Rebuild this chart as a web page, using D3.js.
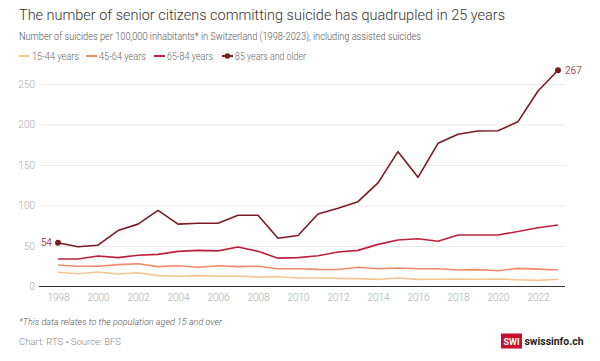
<!DOCTYPE html>
<html>
<head>
<meta charset="utf-8">
<script src="https://cdn.jsdelivr.net/npm/d3@7"></script>
<style>
  body { margin: 0; background: #fff; }
  svg { font-family: Roboto, "Noto Sans", sans-serif; }
</style>
</head>
<body>
<svg id="chart" width="600" height="361"></svg>
<script>
const years = d3.range(1998, 2024);
const age15to44 = [17.5, 15.8, 17.9, 15.4, 17, 13.4, 12.6, 13.4, 12.6, 13, 11.7, 12, 10.5, 10.5, 10, 9.7, 8.8, 10.5, 8.8, 9, 9.3, 9, 9.3, 8.4, 7.6, 9];
const age45to64 = [26.5, 25, 25, 27, 28, 24.5, 25.7, 23.7, 25.7, 24.5, 25, 22, 22, 21.2, 21, 23.7, 22, 22.8, 22, 22, 20.4, 20.8, 19.5, 22.4, 21.5, 20.4];
const age65to84 = [34, 34, 37.6, 35.6, 38.5, 39.7, 43.4, 44.6, 44, 48.8, 43.4, 35, 35.6, 38, 42.6, 44.6, 52, 57.4, 59, 55.8, 63.6, 63.6, 63.6, 68, 72.6, 76];
const age85plus = [54, 49, 51, 69, 77, 94, 77, 78, 78, 88, 88, 59.5, 63, 89.5, 96.5, 104.7, 128, 166.5, 134.8, 176.8, 188, 192, 192.3, 203.5, 241.4, 267];
const yTicks = [0, 50, 100, 150, 200, 250];
const xTicks = d3.range(1998, 2024, 2);

const series = [
  { name: '15-44 years', values: age15to44, color: '#f6c48f' },
  { name: '45-64 years', values: age45to64, color: '#f38a66' },
  { name: '65-84 years', values: age65to84, color: '#c0203b' },
  { name: '85 years and older', values: age85plus, color: '#7c1a22', dots: true }
];

const svg = d3.select('#chart');

const x = d3.scaleLinear().domain([1998, 2023]).range([58, 558]);
const y = d3.scaleLinear().domain([0, 250]).range([286.5, 84]);

// titles
svg.append('text').attr('x', 19).attr('y', 19.5)
  .attr('font-size', 15.5).attr('fill', '#333').attr('font-weight', 300)
  .attr('textLength', 486).attr('lengthAdjust', 'spacingAndGlyphs')
  .text('The number of senior citizens committing suicide has quadrupled in 25 years');
svg.append('text').attr('x', 19).attr('y', 39.5)
  .attr('font-size', 10).attr('fill', '#555').attr('font-weight', 300)
  .attr('textLength', 402).attr('lengthAdjust', 'spacingAndGlyphs')
  .text('Number of suicides per 100,000 inhabitants* in Switzerland (1998-2023), including assisted suicides');

// legend
const legendX = [19, 86, 154, 222];
const legendW = [47, 47, 46, 71];
const legend = svg.append('g');
series.forEach((s, i) => {
  const g = legend.append('g').attr('transform', 'translate(' + legendX[i] + ',56)');
  g.append('line').attr('x1', 0).attr('x2', 11).attr('y1', 0).attr('y2', 0)
    .attr('stroke', s.color).attr('stroke-width', 2);
  if (s.dots) g.append('circle').attr('cx', 5.5).attr('cy', 0).attr('r', 2.8).attr('fill', s.color);
  g.append('text').attr('x', 13).attr('y', 3.5).attr('font-size', 10)
    .attr('textLength', legendW[i]).attr('lengthAdjust', 'spacingAndGlyphs')
    .attr('fill', '#666').attr('font-weight', 300).text(s.name);
});

// grid
const grid = d3.axisLeft(y).tickValues(yTicks).tickSize(-(565 - 39)).tickFormat(d => d);
const gGrid = svg.append('g').attr('transform', 'translate(39,0)').call(grid);
gGrid.select('.domain').remove();
gGrid.selectAll('.tick line').attr('stroke', '#ebebeb');
gGrid.selectAll('.tick text').attr('x', -4).attr('fill', '#aaa')
  .attr('font-size', 10).attr('font-family', 'Roboto, sans-serif').attr('font-weight', 300);
gGrid.selectAll('.tick').filter(d => d === 0).select('line').remove();

// x axis
const xAxis = d3.axisBottom(x).tickValues(xTicks).tickSize(0).tickFormat(d3.format('d'));
const gX = svg.append('g').attr('transform', 'translate(0,' + y(0) + ')').call(xAxis);
gX.select('.domain').remove();
gX.append('line').attr('x1', 39).attr('x2', 565).attr('stroke', '#333').attr('stroke-width', 1);
gX.selectAll('.tick text').attr('dy', 0).attr('y', 14).attr('fill', '#aaa')
  .attr('font-size', 10).attr('font-family', 'Roboto, sans-serif').attr('font-weight', 300);

// lines
const line = d3.line().x((d, i) => x(years[i])).y(d => y(d));
series.forEach(s => {
  svg.append('path').datum(s.values).attr('d', line)
    .attr('fill', 'none').attr('stroke', s.color).attr('stroke-width', 1.6)
    .attr('stroke-linejoin', 'round');
});

// end labels for 85+
const last = series[3];
const ends = [0, last.values.length - 1];
ends.forEach(i => {
  svg.append('circle').attr('cx', x(years[i])).attr('cy', y(last.values[i])).attr('r', 3).attr('fill', last.color);
});
svg.append('text').attr('x', x(years[0]) - 6).attr('y', y(last.values[0]) + 3.5)
  .attr('text-anchor', 'end').attr('font-size', 10).attr('fill', '#a5545a').text(Math.round(last.values[0]));
svg.append('text').attr('x', x(years[25]) + 7).attr('y', y(last.values[25]) + 3.5)
  .attr('font-size', 10).attr('fill', '#a5545a').text(Math.round(last.values[25]));

// footer
svg.append('text').attr('x', 19).attr('y', 325).attr('font-size', 9).attr('font-style', 'italic')
  .attr('textLength', 203).attr('lengthAdjust', 'spacingAndGlyphs')
  .attr('fill', '#555').attr('font-weight', 300).text('*This data relates to the population aged 15 and over');
svg.append('text').attr('x', 19).attr('y', 344.5).attr('font-size', 9.5)
  .attr('textLength', 102).attr('lengthAdjust', 'spacingAndGlyphs')
  .attr('fill', '#888').attr('font-weight', 300).text('Chart: RTS \u2022 Source: BFS');

// logo
svg.append('rect').attr('x', 501).attr('y', 333.5).attr('width', 21).attr('height', 15).attr('fill', '#c8102e');
svg.append('text').attr('x', 511.5).attr('y', 344.5).attr('text-anchor', 'middle').attr('font-size', 9)
  .attr('font-weight', 700).attr('fill', '#fff').text('SWI');
svg.append('text').attr('x', 524.5).attr('y', 345).attr('font-size', 10.5)
  .attr('textLength', 59).attr('lengthAdjust', 'spacingAndGlyphs')
  .attr('font-weight', 700).attr('fill', '#222').text('swissinfo.ch');
</script>
</body>
</html>
